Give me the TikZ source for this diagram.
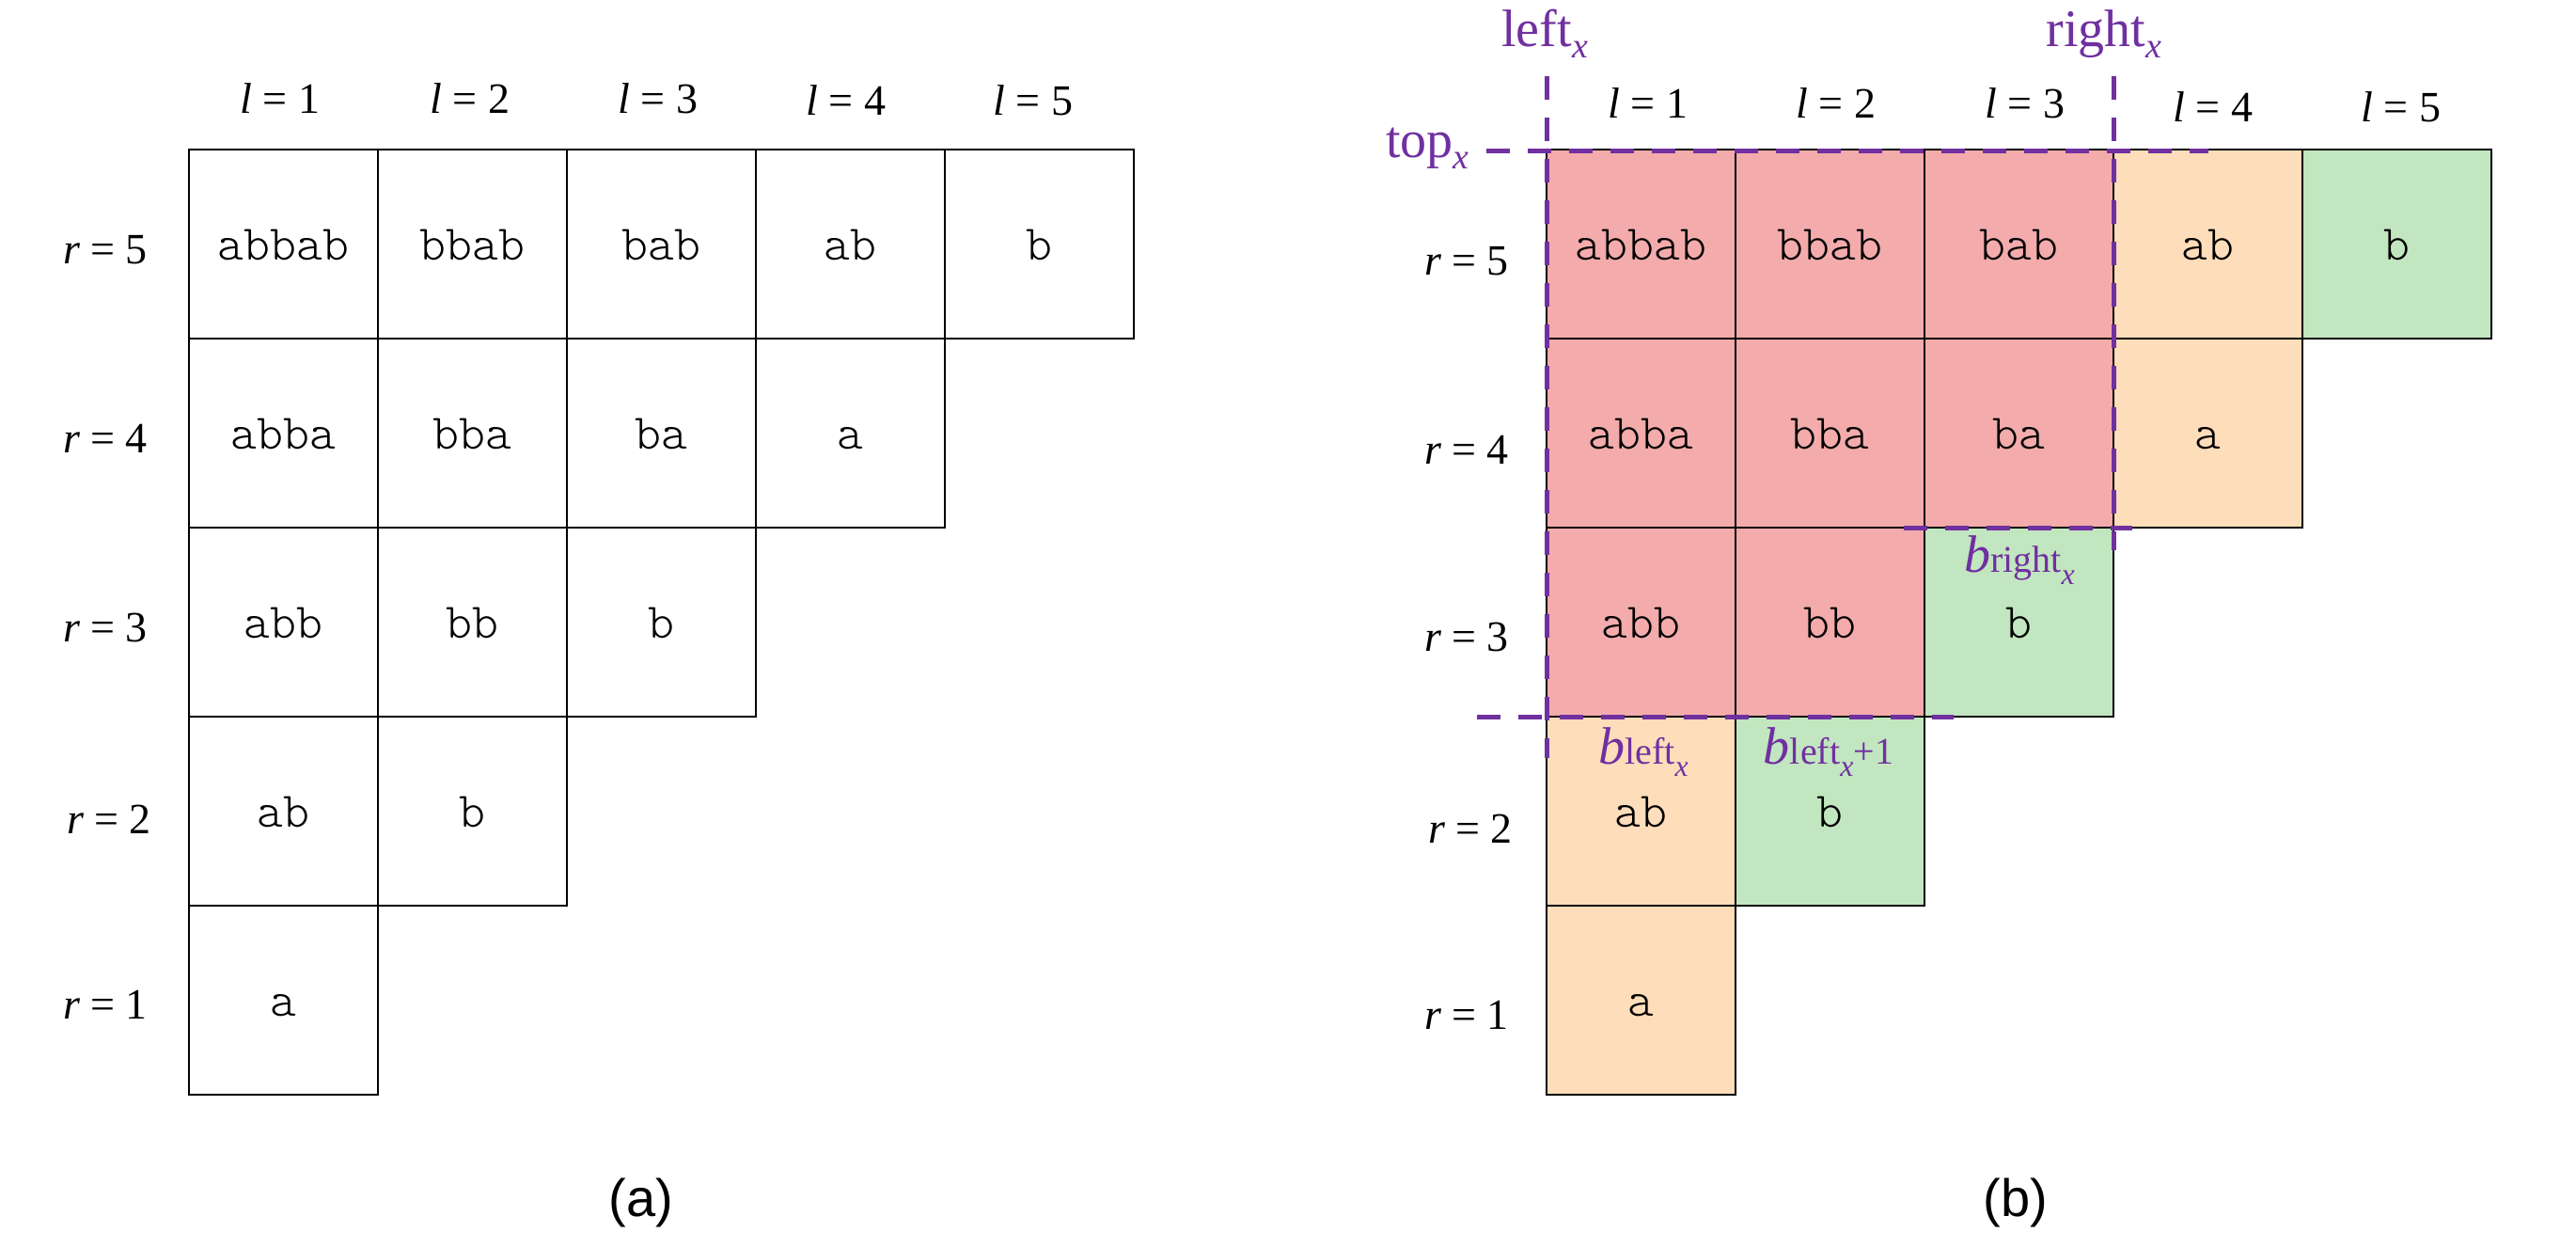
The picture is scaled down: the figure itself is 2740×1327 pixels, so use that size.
\documentclass[tikz,border=0pt]{standalone}
\usepackage{fontspec}
\setmainfont{Liberation Serif}
\newfontfamily\monof{Latin Modern Mono Light}
\newfontfamily\sansf{Liberation Sans}
\definecolor{cred}{HTML}{F3ABAB}
\definecolor{corg}{HTML}{FEDDBA}
\definecolor{cgrn}{HTML}{C2E6C0}
\definecolor{purp}{HTML}{7030A0}
\newcommand{\psub}[1]{\raisebox{-6pt}{\fontsize{19}{20}\selectfont\itshape #1}}
\newcommand{\bsub}[1]{{\fontsize{20}{22}\selectfont #1}}
\newcommand{\bsubx}{\raisebox{-6.5pt}{\fontsize{16}{18}\selectfont\itshape x}}
\begin{document}
\begin{tikzpicture}[x=0.5pt,y=-0.5pt,
  cell/.style={draw=black, line width=1.2pt, minimum size=100.5pt, inner sep=0pt,
    text height=17pt, text depth=0pt, font=\monof\fontsize{26.5}{30}\selectfont},
  lab/.style={inner sep=0pt, anchor=base, font=\fontsize{23}{26}\selectfont},
  plab/.style={inner sep=0pt, text=purp, font=\fontsize{28}{30}\selectfont},
  pdash/.style={draw=purp, line width=2.5pt, dash pattern=on 12.5pt off 9.5pt},
  captext/.style={inner sep=0pt, anchor=base, font=\sansf\fontsize{28}{32}\selectfont}]
\useasboundingbox (0,0) rectangle (2740,1327);
% ---------- panel (a) ----------
\node[lab] (al1) at (298,120) {\textit{l} = 1};
\node[lab] (al2) at (500,120) {\textit{l} = 2};
\node[lab] (al3) at (700,120) {\textit{l} = 3};
\node[lab] (al4) at (900,123) {\textit{l} = 4};
\node[lab] (al5) at (1099,123) {\textit{l} = 5};
\node[lab] (ar5) at (112,280) {\textit{r} = 5};
\node[lab] (ar4) at (112,481) {\textit{r} = 4};
\node[lab] (ar3) at (112,682) {\textit{r} = 3};
\node[lab] (ar2) at (116,886) {\textit{r} = 2};
\node[lab] (ar1) at (112,1083) {\textit{r} = 1};
\node[cell] (a51) at (301.5,259.5) {abbab};
\node[cell] (a52) at (502.5,259.5) {bbab};
\node[cell] (a53) at (703.5,259.5) {bab};
\node[cell] (a54) at (904.5,259.5) {ab};
\node[cell] (a55) at (1105.5,259.5) {b};
\node[cell] (a41) at (301.5,460.5) {abba};
\node[cell] (a42) at (502.5,460.5) {bba};
\node[cell] (a43) at (703.5,460.5) {ba};
\node[cell] (a44) at (904.5,460.5) {a};
\node[cell] (a31) at (301.5,661.5) {abb};
\node[cell] (a32) at (502.5,661.5) {bb};
\node[cell] (a33) at (703.5,661.5) {b};
\node[cell] (a21) at (301.5,862.5) {ab};
\node[cell] (a22) at (502.5,862.5) {b};
\node[cell] (a11) at (301.5,1063.5) {a};
\node[captext] (capa) at (682,1293) {(a)};
% ---------- panel (b) ----------
\node[lab] (bl1) at (1753,126) {\textit{l} = 1};
\node[lab] (bl2) at (1953,126) {\textit{l} = 2};
\node[lab] (bl3) at (2154,126) {\textit{l} = 3};
\node[lab] (bl4) at (2354,130) {\textit{l} = 4};
\node[lab] (bl5) at (2554,130) {\textit{l} = 5};
\node[lab] (br5) at (1560,292) {\textit{r} = 5};
\node[lab] (br4) at (1560,493) {\textit{r} = 4};
\node[lab] (br3) at (1560,692) {\textit{r} = 3};
\node[lab] (br2) at (1564,896) {\textit{r} = 2};
\node[lab] (br1) at (1560,1094) {\textit{r} = 1};
\node[cell, fill=cred] (b51) at (1745.5,259.5) {abbab};
\node[cell, fill=cred] (b52) at (1946.5,259.5) {bbab};
\node[cell, fill=cred] (b53) at (2147.5,259.5) {bab};
\node[cell, fill=corg] (b54) at (2348.5,259.5) {ab};
\node[cell, fill=cgrn] (b55) at (2549.5,259.5) {b};
\node[cell, fill=cred] (b41) at (1745.5,460.5) {abba};
\node[cell, fill=cred] (b42) at (1946.5,460.5) {bba};
\node[cell, fill=cred] (b43) at (2147.5,460.5) {ba};
\node[cell, fill=corg] (b44) at (2348.5,460.5) {a};
\node[cell, fill=cred] (b31) at (1745.5,661.5) {abb};
\node[cell, fill=cred] (b32) at (1946.5,661.5) {bb};
\node[cell, fill=cgrn] (b33) at (2147.5,661.5) {b};
\node[cell, fill=corg] (b21) at (1745.5,862.5) {ab};
\node[cell, fill=cgrn] (b22) at (1946.5,862.5) {b};
\node[cell, fill=corg] (b11) at (1745.5,1063.5) {a};
% dashed bounds
\coordinate (vla) at (1645,81);  \coordinate (vlb) at (1645,806);
\coordinate (vra) at (2248,81);  \coordinate (vrb) at (2248,585);
\coordinate (hta) at (1581,160); \coordinate (htb) at (2349,160);
\coordinate (hma) at (2025,561); \coordinate (hmb) at (2268,561);
\coordinate (hba) at (1571,762); \coordinate (hbb) at (2078,762);
\draw[pdash] (vla) -- (vlb);
\draw[pdash] (vra) -- (vrb);
\draw[pdash] (hta) -- (htb);
\draw[pdash] (hma) -- (hmb);
\draw[pdash] (hba) -- (hbb);
% purple labels
\node[plab, anchor=base west] (leftx) at (1597,50) {left\psub{x}};
\node[plab, anchor=base west] (rightx) at (2176,50) {right\psub{x}};
\node[plab, anchor=base east] (topx) at (1563,167) {top\psub{x}};
\node[plab, anchor=base] (bright) at (2148,608) {\textit{b}\bsub{right\bsubx}};
\node[plab, anchor=base] (bleft) at (1748,812) {\textit{b}\bsub{left\bsubx}};
\node[plab, anchor=base] (bleftp) at (1945,812) {\textit{b}\bsub{left\bsubx+1}};
\node[captext] (capb) at (2144,1293) {(b)};
\end{tikzpicture}
\end{document}
